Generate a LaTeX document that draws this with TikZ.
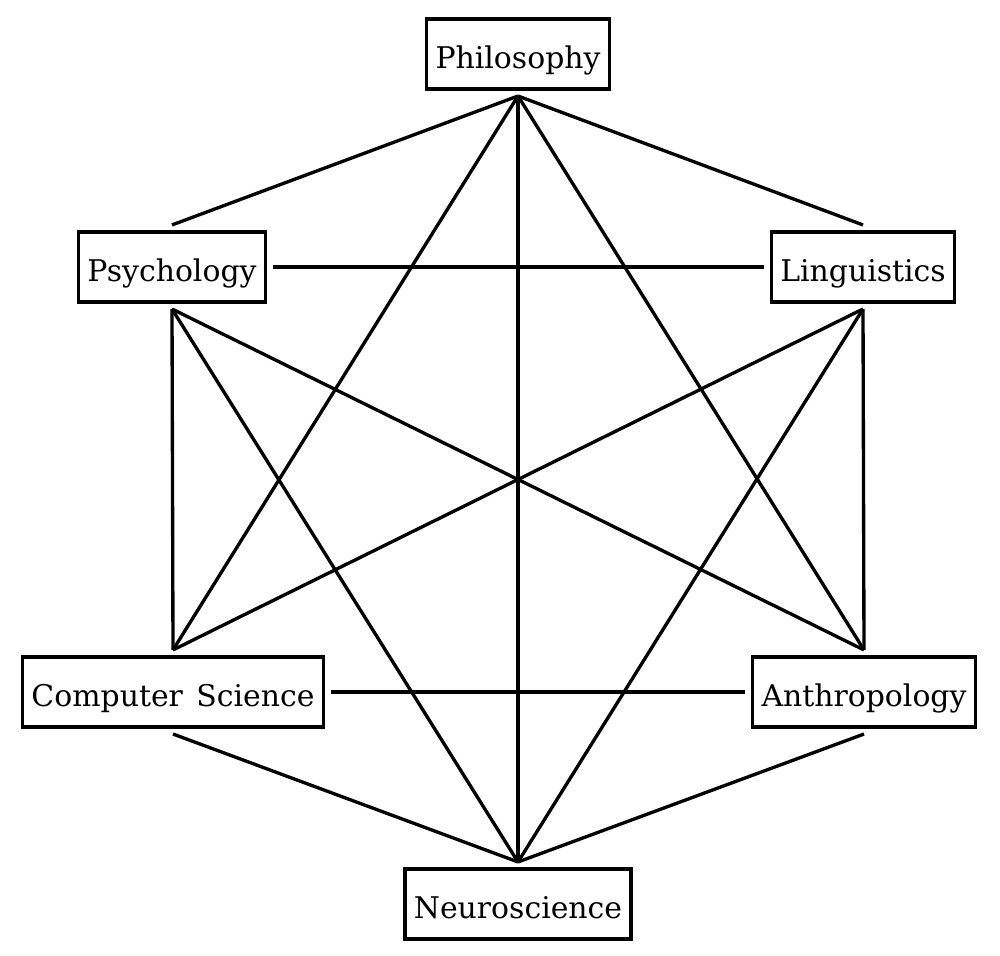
\documentclass[tikz,border=0pt]{standalone}
\usepackage{fontspec}
\setmainfont{DejaVu Serif}
\usepackage{tikz}
\usetikzlibrary{positioning}
\tikzset{boxnode/.style={rectangle, draw=black, fill=white, line width=1.9pt, minimum height=14mm, inner xsep=1.8mm, outer sep=4pt, text height=16pt, text depth=0pt, font=\fontsize{17}{20}\selectfont},
linkline/.style={line width=1.9pt},}

\begin{document}
\begin{tikzpicture}
\useasboundingbox (0,0) rectangle (20,19.12);
\node [boxnode] (phil) at (10.36,18.04) {Philosophy};
\node [boxnode] (psy) at (3.44,13.78) {Psychology};
\node [boxnode] (ling) at (17.26,13.78) {Linguistics};
\node [boxnode] (cs) at (3.46,5.28) {Computer\hspace{0.45em}Science};
\node [boxnode] (anth) at (17.28,5.28) {Anthropology};
\node [boxnode] (neuro) at (10.36,1.04) {Neuroscience};
\draw[linkline] (phil.south) -- (psy.north);
\draw[linkline] (phil.south) -- (ling.north);
\draw[linkline] (phil.south) -- (cs.north);
\draw[linkline] (phil.south) -- (anth.north);
\draw[linkline] (phil.south) -- (neuro.north);
\draw[linkline] (psy.east) -- (ling.west);
\draw[linkline] (psy.south) -- (cs.north);
\draw[linkline] (psy.south) -- (anth.north);
\draw[linkline] (psy.south) -- (neuro.north);
\draw[linkline] (ling.south) -- (cs.north);
\draw[linkline] (ling.south) -- (anth.north);
\draw[linkline] (ling.south) -- (neuro.north);
\draw[linkline] (cs.east) -- (anth.west);
\draw[linkline] (cs.south) -- (neuro.north);
\draw[linkline] (anth.south) -- (neuro.north);
\end{tikzpicture}
\end{document}
